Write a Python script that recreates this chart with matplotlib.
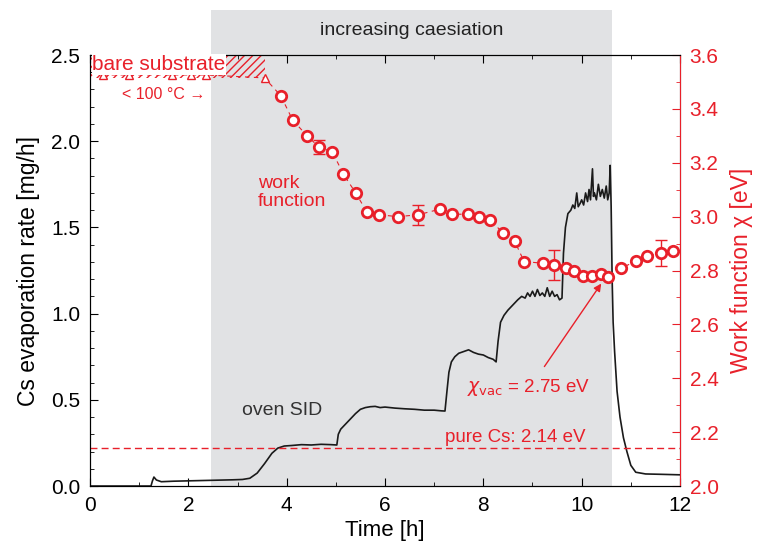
import matplotlib
matplotlib.use("Agg")
import matplotlib.pyplot as plt
from matplotlib.patches import Rectangle
from matplotlib.ticker import MultipleLocator

plt.rcParams["font.family"] = ["Liberation Sans", "DejaVu Sans"]
RED = "#e8202a"

# Cs evaporation rate (oven SID), left axis
rate_t = [0, 1.24, 1.27, 1.30, 1.35, 1.45, 1.7, 2.0, 2.3, 2.6, 2.9, 3.1, 3.25, 3.4, 3.55,
          3.7, 3.82, 3.95, 4.1, 4.3, 4.5, 4.7, 4.9, 5.02, 5.05, 5.1, 5.2, 5.3, 5.4, 5.5,
          5.6, 5.7, 5.8, 5.9, 6.0, 6.2, 6.4, 6.6, 6.8, 7.0, 7.15, 7.22, 7.26, 7.30, 7.35,
          7.42, 7.5, 7.6, 7.7, 7.8, 7.9, 8.0, 8.1, 8.2, 8.26, 8.30, 8.35, 8.42, 8.5, 8.6,
          8.7, 8.78, 8.85, 8.9, 8.95, 9.0, 9.05, 9.1, 9.15, 9.2, 9.25, 9.3, 9.35, 9.4,
          9.45, 9.5, 9.55, 9.6, 9.63, 9.67, 9.72, 9.78, 9.82, 9.86, 9.9, 9.93, 9.97, 10.0,
          10.04, 10.08, 10.12, 10.15, 10.18, 10.22, 10.24, 10.26, 10.3, 10.34, 10.38,
          10.42, 10.46, 10.5, 10.53, 10.56, 10.58, 10.60, 10.62, 10.64, 10.67, 10.72,
          10.78, 10.85, 10.92, 11.0, 11.1, 11.3, 11.6, 12.0]
rate = [0.0, 0.0, 0.03, 0.052, 0.035, 0.025, 0.028, 0.03, 0.032, 0.034, 0.036, 0.038, 0.045,
        0.075, 0.13, 0.19, 0.22, 0.232, 0.235, 0.24, 0.238, 0.242, 0.24, 0.238, 0.30, 0.33,
        0.36, 0.39, 0.42, 0.445, 0.455, 0.46, 0.462, 0.455, 0.458, 0.452, 0.448, 0.445,
        0.44, 0.44, 0.436, 0.435, 0.55, 0.66, 0.72, 0.75, 0.77, 0.78, 0.79, 0.775, 0.765,
        0.76, 0.745, 0.735, 0.72, 0.84, 0.95, 0.99, 1.02, 1.05, 1.08, 1.10, 1.09, 1.12,
        1.10, 1.13, 1.10, 1.14, 1.105, 1.12, 1.10, 1.15, 1.10, 1.13, 1.10, 1.11, 1.08,
        1.09, 1.35, 1.50, 1.58, 1.60, 1.63, 1.61, 1.70, 1.62, 1.64, 1.66, 1.63, 1.70,
        1.65, 1.72, 1.66, 1.84, 1.68, 1.70, 1.66, 1.75, 1.68, 1.72, 1.67, 1.74, 1.66,
        1.70, 1.86, 1.62, 1.20, 0.95, 0.78, 0.55, 0.40, 0.28, 0.20, 0.12, 0.08, 0.07,
        0.068, 0.065]

# work function, right axis
bare_t = [0.26, 0.80, 1.67, 2.05, 2.36, 3.55]
bare_chi = [3.526, 3.526, 3.526, 3.526, 3.526, 3.515]
wf_t = [3.88, 4.12, 4.42, 4.66, 4.93, 5.15, 5.40, 5.63, 5.88, 6.26, 6.68, 7.12, 7.37,
        7.69, 7.91, 8.14, 8.41, 8.64, 8.83, 9.22, 9.44, 9.68, 9.84, 10.03, 10.22, 10.40,
        10.54, 10.80, 11.10, 11.32, 11.61, 11.86]
wf_chi = [3.449, 3.359, 3.299, 3.258, 3.240, 3.159, 3.089, 3.018, 3.007, 3.000, 3.007,
          3.028, 3.009, 3.009, 2.998, 2.987, 2.938, 2.908, 2.833, 2.827, 2.822, 2.810,
          2.797, 2.781, 2.781, 2.786, 2.777, 2.808, 2.835, 2.854, 2.864, 2.871]
err_t = [4.66, 6.68, 9.44, 11.61]
err_chi = [3.258, 3.007, 2.822, 2.864]
err_val = [0.026, 0.037, 0.056, 0.048]

caes_start, caes_end = 2.46, 10.62
chi_pure_cs = 2.14

fig = plt.figure(figsize=(7.59, 5.54), dpi=100)
ax = fig.add_axes([0.1186, 0.1227, 0.7773, 0.778])
ax2 = ax.twinx()

ax.add_patch(Rectangle((caes_start, 0), caes_end - caes_start, 1.104,
                       transform=ax.get_xaxis_transform(), facecolor="#e1e2e4",
                       edgecolor="none", clip_on=False, zorder=0))
ax.text((caes_start + caes_end) / 2, 1.058, "increasing caesiation",
        transform=ax.get_xaxis_transform(), ha="center", va="center", fontsize=14,
        color="#222222")

ax.plot(rate_t, rate, color="#1a1a1a", linewidth=1.2, zorder=3)
ax.set_xlim(0, 12)
ax.set_ylim(0, 2.5)
ax.set_xlabel("Time [h]", fontsize=16, labelpad=4)
ax.set_ylabel("Cs evaporation rate [mg/h]", fontsize=16.5, labelpad=8)
ax.xaxis.set_major_locator(MultipleLocator(2))
ax.xaxis.set_minor_locator(MultipleLocator(1))
ax.yaxis.set_major_locator(MultipleLocator(0.5))
ax.yaxis.set_minor_locator(MultipleLocator(0.1))
ax.tick_params(which="both", direction="in", top=True, labelsize=15, pad=7)
ax.tick_params(which="major", length=6)
ax.tick_params(which="minor", length=3)
ax.text(3.9, 0.44, "oven SID", fontsize=14, color="#333333", ha="center", va="center")

ax2.set_ylim(2.0, 3.6)
ax2.add_patch(Rectangle((0, 3.515), 3.56, 0.085, facecolor="none", edgecolor=RED,
                        hatch="////", linewidth=0, zorder=1))
ax2.axhline(chi_pure_cs, color=RED, linestyle=(0, (5, 3)), linewidth=1.0)
ax2.plot(bare_t + wf_t, bare_chi + wf_chi, color=RED, linestyle=(0, (4, 4)),
         linewidth=0.8, zorder=2)
ax2.plot(bare_t, bare_chi, linestyle="none", marker="^", markersize=6,
         markerfacecolor="white", markeredgecolor=RED, markeredgewidth=1.0, zorder=4)
ax2.errorbar(err_t, err_chi, yerr=err_val, fmt="none", ecolor=RED, elinewidth=1.0,
             capsize=4, zorder=3)
ax2.plot(wf_t, wf_chi, linestyle="none", marker="o", markersize=7.5,
         markerfacecolor="white", markeredgecolor=RED, markeredgewidth=2.0, zorder=5)

ax2.text(1.4, 3.565, "bare substrate", fontsize=15, color=RED, ha="center", va="center",
         bbox=dict(facecolor="white", edgecolor="none", pad=0.5), zorder=6)
ax2.text(1.5, 3.452, "< 100 °C \u2192", fontsize=11.5, color=RED, ha="center", va="center")
ax2.text(3.42, 3.09, "work\nfunction", fontsize=14, color=RED, ha="left", va="center",
         linespacing=1.05)
ax2.annotate("", xy=(10.43, 2.76), xytext=(9.21, 2.435),
             arrowprops=dict(arrowstyle="-|>", color=RED, lw=1.0, mutation_scale=11))
ax2.text(8.92, 2.365, r"$\chi_{\mathrm{vac}}$ = 2.75 eV", fontsize=13.5, color=RED,
         ha="center", va="center")
ax2.text(10.07, 2.18, "pure Cs: 2.14 eV", fontsize=13.5, color=RED, ha="right",
         va="center")

ax2.set_ylabel("Work function \u03c7 [eV]", fontsize=16.5, color=RED, labelpad=8)
ax2.yaxis.set_major_locator(MultipleLocator(0.2))
ax2.yaxis.set_minor_locator(MultipleLocator(0.1))
ax2.tick_params(which="both", direction="in", colors=RED, labelsize=15, pad=7)
ax2.tick_params(which="major", length=6)
ax2.tick_params(which="minor", length=3)
ax2.spines["right"].set_color(RED)

fig.savefig("out.png", dpi=100)
